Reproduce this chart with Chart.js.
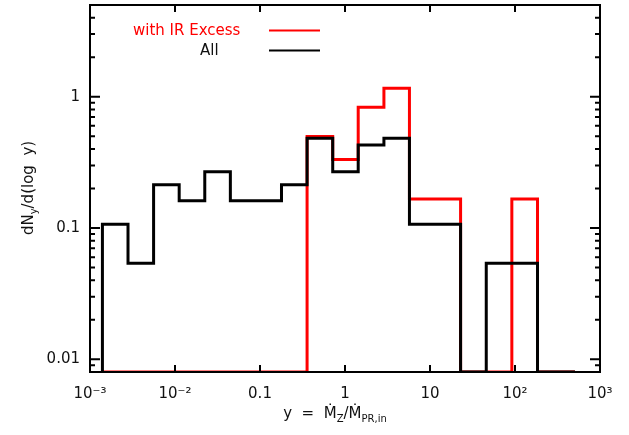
<!DOCTYPE html>
<html>
<head>
<meta charset="utf-8">
<script src="https://cdn.jsdelivr.net/npm/chart.js@4"></script>
<style>
html,body{margin:0;padding:0;background:#ffffff;}
#wrap{width:629px;height:435px;}
</style>
</head>
<body>
<div id="wrap"><canvas id="c" width="629" height="435"></canvas></div>
<script>
// ---- data ----
const BIN_EDGES = [0.0014, 0.0028, 0.0056, 0.0112, 0.0224, 0.0448, 0.0896, 0.179, 0.358, 0.717,
                   1.43, 2.87, 5.73, 11.5, 22.9, 45.9, 91.8, 184, 367];
const X_END = 508;
const ALL_VALUES = [0.107, 0.054, 0.214, 0.161, 0.268, 0.161, 0.161, 0.214, 0.482,
                    0.268, 0.429, 0.482, 0.107, 0.107, 0, 0.054, 0.054, 0];
const IR_VALUES  = [0, 0, 0, 0, 0, 0, 0, 0, 0.498,
                    0.332, 0.830, 1.163, 0.166, 0.166, 0, 0, 0.166, 0];
const X_TICKS = [0.001, 0.01, 0.1, 1, 10, 100, 1000];
const X_TICK_LABELS = ['10\u207B\u00B3', '10\u207B\u00B2', '0.1', '1', '10', '10\u00B2', '10\u00B3'];
const Y_TICKS = [0.01, 0.1, 1];
const Y_TICK_LABELS = ['0.01', '0.1', '1'];
const SERIES_NAMES = ['All', 'with IR Excess'];
const X_MIN = 0.001, X_MAX = 1000, Y_MIN = 0.008, Y_MAX = 5;

const FONT = '"DejaVu Sans", "Liberation Sans", sans-serif';
const TEXT = '#111111';

function stepPoints(values) {
  const pts = [{x: BIN_EDGES[0], y: Y_MIN}];
  BIN_EDGES.forEach((e, i) => {
    const v = i < values.length ? values[i] : 0;
    pts.push({x: e, y: v > 0 ? v : Y_MIN});
  });
  pts.push({x: X_END, y: Y_MIN});
  return pts;
}

const decorPlugin = {
  id: 'decor',
  afterDatasetsDraw(chart) {
    const ctx = chart.ctx;
    const a = chart.chartArea;
    const xs = chart.scales.x, ys = chart.scales.y;
    ctx.save();
    ctx.strokeStyle = '#000';
    ctx.lineWidth = 2;
    ctx.lineCap = 'butt';
    // frame
    ctx.strokeRect(a.left, a.top, a.right - a.left, a.bottom - a.top);
    // x major ticks (inward, bottom & top)
    ctx.beginPath();
    X_TICKS.forEach(v => {
      const px = xs.getPixelForValue(v);
      if (px <= a.left + 1 || px >= a.right - 1) return;
      ctx.moveTo(px, a.bottom); ctx.lineTo(px, a.bottom - 7);
      ctx.moveTo(px, a.top); ctx.lineTo(px, a.top + 7);
    });
    // y ticks
    for (let d = -3; d <= 0; d++) {
      for (let m = 1; m <= 9; m++) {
        const v = m * Math.pow(10, d);
        if (v < Y_MIN * 0.999 || v > Y_MAX * 1.001) continue;
        const py = ys.getPixelForValue(v);
        if (py >= a.bottom - 0.5 || py <= a.top + 0.5) continue;
        const len = m === 1 ? 10 : 5;
        ctx.moveTo(a.left, py); ctx.lineTo(a.left + len, py);
        ctx.moveTo(a.right, py); ctx.lineTo(a.right - len, py);
      }
    }
    ctx.stroke();

    // legend
    ctx.font = '15px ' + FONT;
    ctx.textBaseline = 'alphabetic';
    ctx.textAlign = 'left';
    ctx.fillStyle = '#ff0000';
    ctx.fillText(SERIES_NAMES[1], 133, 35);
    ctx.fillStyle = TEXT;
    ctx.fillText(SERIES_NAMES[0], 200, 55);
    ctx.lineWidth = 2;
    ctx.strokeStyle = '#ff0000';
    ctx.beginPath(); ctx.moveTo(269, 30.5); ctx.lineTo(320, 30.5); ctx.stroke();
    ctx.strokeStyle = '#000000';
    ctx.beginPath(); ctx.moveTo(269, 50.5); ctx.lineTo(320, 50.5); ctx.stroke();

    // x-axis title: y = Mdot_Z / Mdot_PR,in
    const big = '15px ' + FONT, small = '10px ' + FONT;
    const parts = [
      {t: 'y  =  \u1E40', f: big, dy: 0},
      {t: 'Z', f: small, dy: 4},
      {t: '/\u1E40', f: big, dy: 0},
      {t: 'PR,in', f: small, dy: 4}
    ];
    let total = 0;
    parts.forEach(p => { ctx.font = p.f; p.w = ctx.measureText(p.t).width; total += p.w; });
    let x0 = 335 - total / 2;
    const base = 418;
    ctx.fillStyle = TEXT;
    parts.forEach(p => { ctx.font = p.f; ctx.fillText(p.t, x0, base + p.dy); x0 += p.w; });

    // y-axis title: dN_y/d(log y)
    ctx.save();
    ctx.translate(33, 188);
    ctx.rotate(-Math.PI / 2);
    const yparts = [
      {t: 'dN', f: big, dy: 0},
      {t: 'y', f: small, dy: 4},
      {t: '/d(log  y)', f: big, dy: 0}
    ];
    let tw = 0;
    yparts.forEach(p => { ctx.font = p.f; p.w = ctx.measureText(p.t).width; tw += p.w; });
    let yx = -tw / 2;
    yparts.forEach(p => { ctx.font = p.f; ctx.fillText(p.t, yx, p.dy); yx += p.w; });
    ctx.restore();

    ctx.restore();
  }
};

new Chart(document.getElementById('c'), {
  type: 'line',
  data: {
    datasets: [
      {
        label: SERIES_NAMES[0],
        data: stepPoints(ALL_VALUES),
        borderColor: '#000000',
        borderWidth: 3,
        stepped: 'before',
        pointRadius: 0,
        fill: false,
        borderJoinStyle: 'miter',
        borderCapStyle: 'butt'
      },
      {
        label: SERIES_NAMES[1],
        data: stepPoints(IR_VALUES),
        borderColor: '#ff0000',
        borderWidth: 3,
        stepped: 'before',
        pointRadius: 0,
        fill: false,
        borderJoinStyle: 'miter',
        borderCapStyle: 'butt'
      }
    ]
  },
  options: {
    responsive: false,
    devicePixelRatio: 1,
    animation: false,
    layout: {padding: {left: 0, right: 29, top: 5, bottom: 0}},
    plugins: {legend: {display: false}, tooltip: {enabled: false}},
    scales: {
      x: {
        type: 'logarithmic',
        min: X_MIN, max: X_MAX,
        grid: {display: false, drawTicks: false, tickLength: 0},
        border: {display: false},
        afterBuildTicks: (s) => { s.ticks = X_TICKS.map(v => ({value: v})); },
        afterFit: (s) => { s.height = 63; s.paddingLeft = 0; s.paddingRight = 0; },
        ticks: {
          autoSkip: false, maxRotation: 0, padding: 13,
          color: TEXT, font: {family: FONT, size: 15},
          callback: (v, i) => X_TICK_LABELS[i]
        }
      },
      y: {
        type: 'logarithmic',
        min: Y_MIN, max: Y_MAX,
        grid: {display: false, drawTicks: false, tickLength: 0},
        border: {display: false},
        afterBuildTicks: (s) => { s.ticks = Y_TICKS.map(v => ({value: v})); },
        afterFit: (s) => { s.width = 90; s.paddingTop = 0; s.paddingBottom = 0; },
        ticks: {
          autoSkip: false, padding: 10,
          color: TEXT, font: {family: FONT, size: 15},
          callback: (v, i) => Y_TICK_LABELS[i]
        }
      }
    }
  },
  plugins: [decorPlugin]
});
</script>
</body>
</html>
